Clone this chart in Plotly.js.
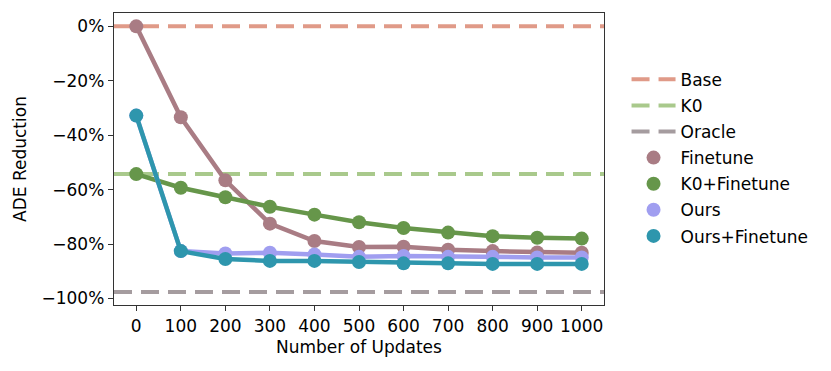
<!DOCTYPE html>
<html>
<head>
<meta charset="utf-8">
<script src="https://cdn.plot.ly/plotly-3.0.1.min.js"></script>
<style>body{margin:0;background:#fff}#myDiv{width:831px;height:371px}</style>
</head>
<body>
<div id="myDiv"></div>
<script>
var updates = [0, 100, 200, 300, 400, 500, 600, 700, 800, 900, 1000];
var finetune = [0, -33.4, -56.6, -72.5, -78.9, -81.1, -81.0, -82.1, -82.6, -83.1, -83.2];
var k0Finetune = [-54.3, -59.3, -62.8, -66.3, -69.2, -72.0, -74.1, -75.8, -77.1, -77.7, -78.0];
var ours = [-32.8, -82.6, -83.5, -83.2, -83.8, -84.7, -84.4, -84.7, -84.7, -84.9, -84.9];
var oursFinetune = [-32.8, -82.6, -85.5, -86.2, -86.2, -86.6, -87.1, -87.1, -87.3, -87.3, -87.3];
var baseLevel = 0;
var k0Level = -54.3;
var oracleLevel = -97.6;
var yTicks = [0, -20, -40, -60, -80, -100];
var yTickText = yTicks.map(function (v) { return (v < 0 ? '\u2212' + (-v) : v) + '%'; });

var xSpan = [-50, 1050];
var dash = '18px,9px';

function hline(name, y, color) {
  return {
    x: xSpan, y: [y, y], name: name, mode: 'lines', legendgroup: name,
    line: {color: color, width: 4, dash: dash}
  };
}
function series(name, ys, color) {
  return [
    {x: updates, y: ys, mode: 'lines', showlegend: false, legendgroup: name,
     line: {color: color, width: 4.5}, hoverinfo: 'skip'},
    {x: updates, y: ys, name: name, mode: 'markers', legendgroup: name,
     marker: {color: color, size: 14}}
  ];
}

var data = [
  hline('Base', baseLevel, '#e09a88'),
  hline('K0', k0Level, '#a9c98c'),
  hline('Oracle', oracleLevel, '#a59c9f')
].concat(
  series('Finetune', finetune, '#a97c84'),
  series('K0+Finetune', k0Finetune, '#66964a'),
  series('Ours', ours, '#a09ef0'),
  series('Ours+Finetune', oursFinetune, '#2e96ad')
);

var std_font = {family: 'DejaVu Sans', size: 17, color: '#000'};

var layout = {
  width: 831, height: 371,
  margin: {l: 114, r: 227, t: 13, b: 66},
  paper_bgcolor: '#fff', plot_bgcolor: '#fff',
  font: std_font,
  showlegend: true,
  legend: {x: 1.046, xanchor: 'left', y: 0.833, yanchor: 'top',
           font: std_font, tracegroupgap: 1, itemwidth: 44,
           bgcolor: 'rgba(0,0,0,0)'},
  xaxis: {
    title: {text: 'Number of Updates', font: std_font, standoff: 6},
    range: xSpan, tickvals: updates, showgrid: false, zeroline: false,
    ticks: 'outside', ticklen: 5, tickcolor: '#333',
    showline: true, mirror: true, linecolor: '#333', linewidth: 1.3,
    tickfont: std_font
  },
  yaxis: {
    title: {text: 'ADE Reduction', font: std_font, standoff: 10},
    range: [-102.4, 4.9], tickvals: yTicks, ticktext: yTickText, showgrid: false, zeroline: false,
    ticks: 'outside', ticklen: 5, tickcolor: '#333',
    showline: true, mirror: true, linecolor: '#333', linewidth: 1.3,
    tickfont: std_font
  }
};

Plotly.newPlot('myDiv', data, layout, {displayModeBar: false, staticPlot: true});
</script>
</body>
</html>
